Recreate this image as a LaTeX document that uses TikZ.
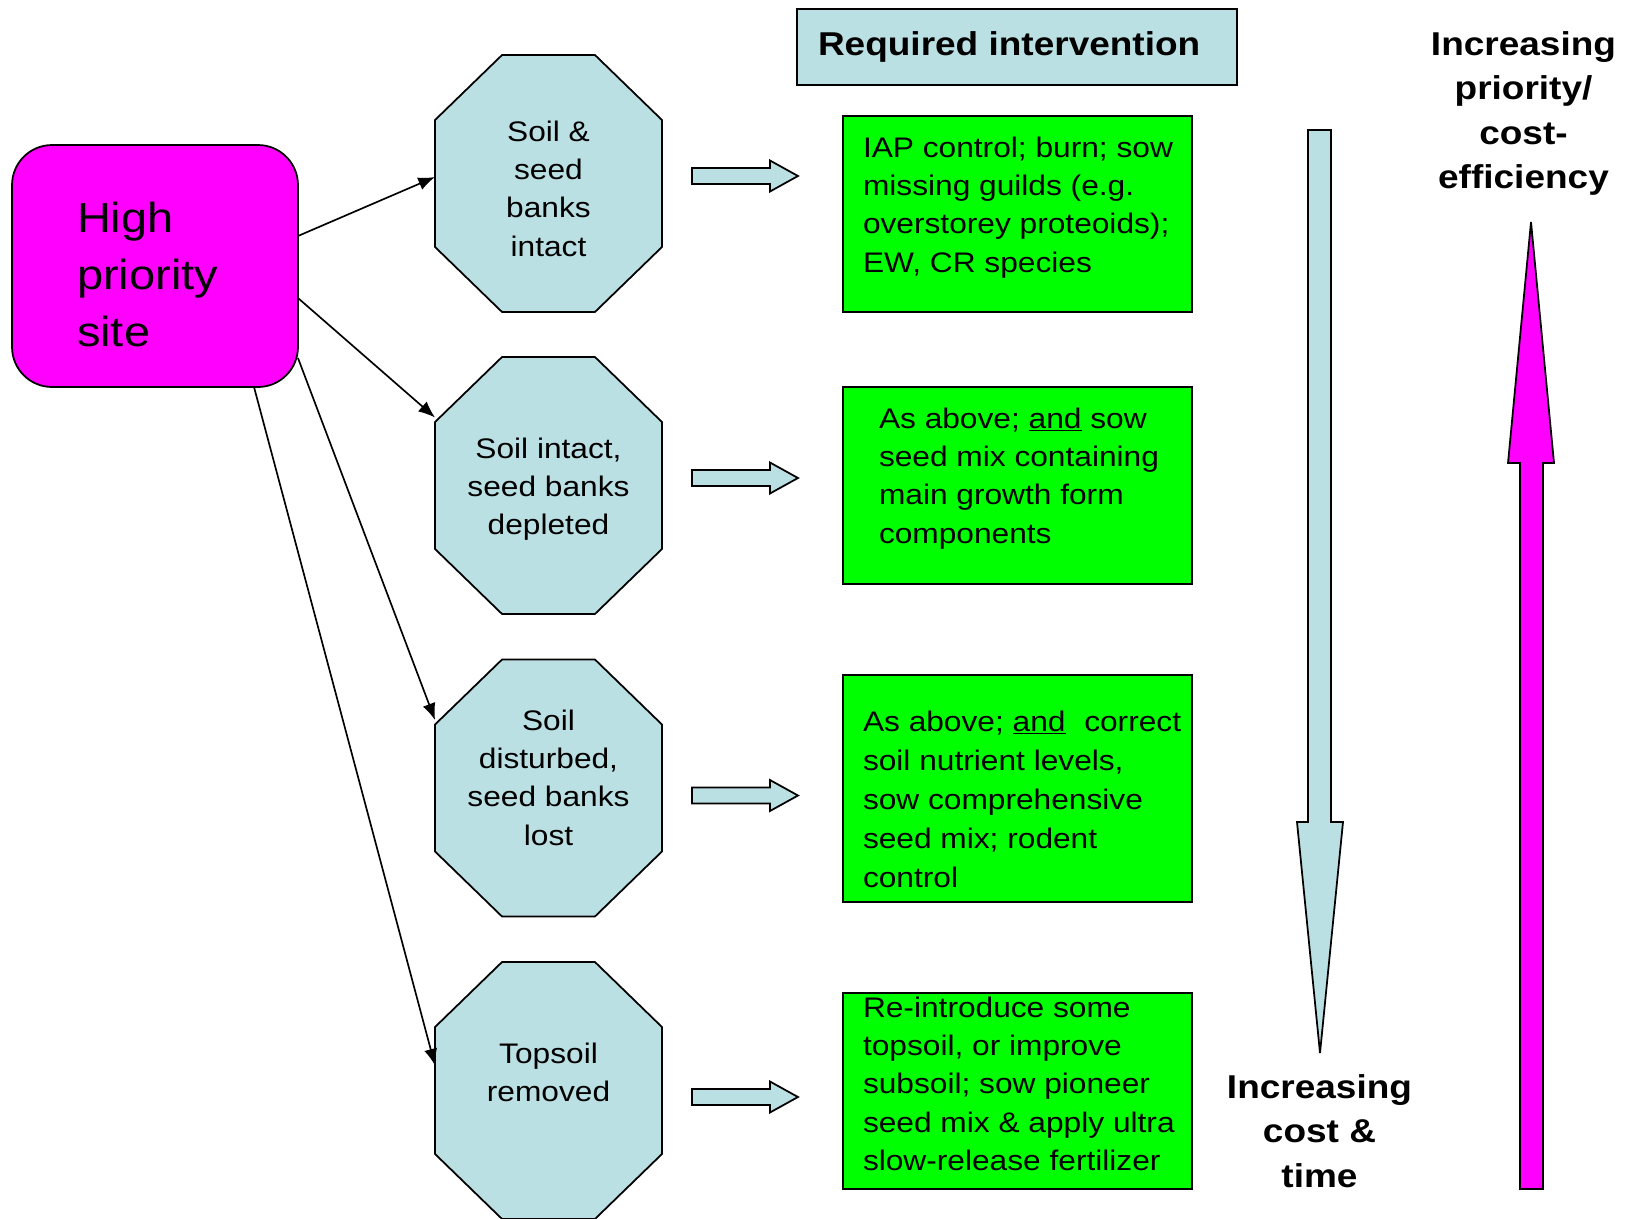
\documentclass[tikz,border=0pt]{standalone}
\usepackage{fontspec}
\setmainfont[FakeStretch=1.12]{Liberation Sans}
\usetikzlibrary{calc,arrows.meta}
\definecolor{lblue}{HTML}{BBE0E3}
\definecolor{mag}{HTML}{FF00FF}
\definecolor{grn}{HTML}{00FF00}
\newcommand\bodyfont{\fontsize{16.1pt}{21.9pt}\selectfont}
\newcommand\bigfont{\fontsize{23.9pt}{32.7pt}\selectfont}
\newcommand\boldfont{\fontsize{18.8pt}{25.3pt}\selectfont\bfseries}
\newcommand\octdraw[1]{%
  \filldraw[shapebox,fill=lblue]
    ($(#1.north west)+(67,0)$) -- ($(#1.north east)+(-67,0)$) --
    ($(#1.north east)+(0,65)$) -- ($(#1.south east)+(0,-65)$) --
    ($(#1.south east)+(-67,0)$) -- ($(#1.south west)+(67,0)$) --
    ($(#1.south west)+(0,-65)$) -- ($(#1.north west)+(0,65)$) -- cycle;}
\newcommand\blockarr[2]{%
  \path ($(#1.east)+(30,#2)$) coordinate (ba-#1);
  \filldraw[shapebox,fill=lblue]
    ($(ba-#1)+(0,-8)$) -- ++(78,0) -- ++(0,-7.5) -- ++(28,15.5) --
    ++(-28,15.5) -- ++(0,-7.5) -- ++(-78,0) -- cycle;}
\begin{document}
\begin{tikzpicture}[x=0.02cm,y=-0.02cm,
  shapebox/.style={draw=black,line width=1pt},
  octnode/.style={rectangle,inner sep=0,outer sep=0,minimum width=4.54cm,minimum height=5.14cm},
  greenbox/.style={shapebox,fill=grn,inner sep=0,outer sep=0,minimum width=6.98cm},
  lbl/.style={inner sep=0,outer sep=0},
  conn/.style={line width=0.95pt,-{Latex[length=9.5pt,width=7.5pt]}},
]
\useasboundingbox (0,0) rectangle (1637,1218);

% high priority site
\node[shapebox,fill=mag,rounded corners=0.8cm,minimum width=5.72cm,minimum height=4.84cm,inner sep=0,outer sep=0] (hp) at (155,266) {};
\node[lbl,anchor=base west] (hpt) at (77,232) {\parbox[t]{6cm}{\bigfont\raggedright High\\priority\\site}};

% octagons
\node[octnode] (o1) at (548.5,183.5) {};
\node[octnode] (o2) at (548.5,485.5) {};
\node[octnode] (o3) at (548.5,788) {};
\node[octnode] (o4) at (548.5,1090.5) {};
\octdraw{o1}\octdraw{o2}\octdraw{o3}\octdraw{o4}
\node[lbl,anchor=base] (o1t) at (548.5,141) {\parbox[t]{4cm}{\bodyfont\centering Soil \&\\seed\\banks\\intact}};
\node[lbl,anchor=base] (o2t) at (548.5,458) {\parbox[t]{4cm}{\bodyfont\centering Soil intact,\\seed banks\\depleted}};
\node[lbl,anchor=base] (o3t) at (548.5,730) {\parbox[t]{4cm}{\bodyfont\centering Soil\\disturbed,\\seed banks\\lost}};
\node[lbl,anchor=base] (o4t) at (548.5,1063) {\parbox[t]{4cm}{\bodyfont\centering Topsoil\\removed}};

% connectors
\draw[conn] ($(hp.east)+(0,-30)$) -- ($(o1.west)+(0,-6.5)$);
\draw[conn] ($(hp.east)+(0,32)$) -- ($(o2.west)+(0,-68)$);
\draw[conn] ($(hp.east)+(0,92)$) -- ($(o3.west)+(0,-68)$);
\draw[conn] ($(hp.south)+(99,0)$) -- ($(o4.west)+(0,-25)$);

% block arrows
\blockarr{o1}{-7.5}
\blockarr{o2}{-7.5}
\blockarr{o3}{7.5}
\blockarr{o4}{6.5}

% header
\node[shapebox,fill=lblue,minimum width=8.8cm,minimum height=1.52cm,inner sep=0,outer sep=0] (req) at (1017,47) {};
\node[lbl,anchor=base west] (reqt) at (818,55) {\boldfont Required intervention};

% green boxes
\node[greenbox,minimum height=3.92cm] (g1) at (1017.5,214) {};
\node[greenbox,minimum height=3.94cm] (g2) at (1017.5,485.5) {};
\node[greenbox,minimum height=4.54cm] (g3) at (1017.5,788.5) {};
\node[greenbox,minimum height=3.92cm] (g4) at (1017.5,1091) {};
\node[lbl,anchor=base west] (g1t) at (863,157) {\parbox[t]{8cm}{\bodyfont\raggedright IAP control; burn; sow\\missing guilds (e.g.\\overstorey proteoids);\\EW, CR species}};
\node[lbl,anchor=base west] (g2t) at (879,428) {\parbox[t]{8cm}{\bodyfont\raggedright As above; \underline{and} sow\\seed mix containing\\main growth form\\components}};
\node[lbl,anchor=base west] (g3t) at (863,731) {\parbox[t]{8cm}{\fontsize{16.1pt}{22.3pt}\selectfont\raggedright As above; \underline{and}\hspace{0.35em} correct\\soil nutrient levels,\\sow comprehensive\\seed mix; rodent\\control}};
\node[lbl,anchor=base west] (g4t) at (863,1017) {\parbox[t]{8cm}{\bodyfont\raggedright Re-introduce some\\topsoil, or improve\\subsoil; sow pioneer\\seed mix \& apply ultra\\slow-release fertilizer}};

% big vertical arrows
\filldraw[shapebox,fill=lblue] (1308,130) -- (1331,130) -- (1331,822) -- (1343,822) -- (1320,1053) -- (1297,822) -- (1308,822) -- cycle;
\filldraw[shapebox,fill=mag] (1520,1189) -- (1543,1189) -- (1543,463) -- (1554,463) -- (1531,222) -- (1508,463) -- (1520,463) -- cycle;

% side labels
\node[lbl,anchor=base] (cost) at (1319.5,1098) {\parbox[t]{5cm}{\fontsize{18.8pt}{25.6pt}\selectfont\bfseries\centering Increasing\\cost \&\\time}};
\node[lbl,anchor=base] (prio) at (1523.5,55.5) {\parbox[t]{5cm}{\boldfont\centering Increasing\\priority/\\cost-\\efficiency}};
\end{tikzpicture}
\end{document}
